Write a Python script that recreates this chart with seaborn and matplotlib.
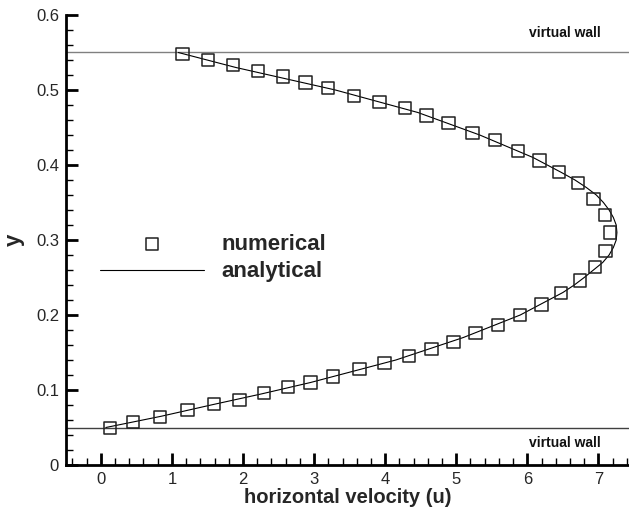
import numpy as np
import pandas as pd
import matplotlib
matplotlib.use("Agg")
import matplotlib.pyplot as plt
import seaborn as sns
from matplotlib.ticker import MultipleLocator

# numerical solution
num_u = [1.15, 1.51, 1.86, 2.21, 2.56, 2.88, 3.20, 3.56, 3.92, 4.28, 4.58, 4.89,
         5.23, 5.54, 5.87, 6.17, 6.45, 6.71, 6.93, 7.09, 7.16, 7.10,
         6.95, 6.74, 6.47, 6.20, 5.90, 5.59, 5.27, 4.96, 4.65, 4.34, 3.99,
         3.64, 3.27, 2.95, 2.63, 2.30, 1.95, 1.59, 1.22, 0.83, 0.45, 0.13]
num_y = [0.548, 0.540, 0.533, 0.525, 0.518, 0.510, 0.503, 0.492, 0.484, 0.476, 0.466, 0.456,
         0.443, 0.433, 0.419, 0.406, 0.391, 0.376, 0.355, 0.333, 0.310, 0.285,
         0.264, 0.246, 0.229, 0.214, 0.200, 0.187, 0.176, 0.164, 0.155, 0.145, 0.136,
         0.128, 0.118, 0.110, 0.104, 0.096, 0.087, 0.081, 0.073, 0.064, 0.057, 0.049]

# analytical solution
ana_y = [0.05, 0.065, 0.08, 0.095, 0.11, 0.14, 0.17, 0.20, 0.23, 0.24, 0.25, 0.26, 0.27,
         0.28, 0.29, 0.30, 0.31, 0.32, 0.33, 0.34, 0.35, 0.36, 0.37, 0.38, 0.39, 0.41,
         0.44, 0.47, 0.50, 0.53, 0.55]
ana_u = [0.07, 0.85, 1.55, 2.27, 2.95, 4.15, 5.10, 5.90, 6.50, 6.66, 6.80, 6.93, 7.06,
         7.15, 7.21, 7.25, 7.26, 7.25, 7.21, 7.15, 7.07, 6.97, 6.83, 6.67, 6.48, 6.08,
         5.33, 4.46, 3.30, 1.90, 1.09]

wall_y = [0.05, 0.55]
wall_label = "virtual wall"

num_df = pd.DataFrame({"u": num_u, "y": num_y})
ana_df = pd.DataFrame({"u": ana_u, "y": ana_y})

sns.set_style("white")
plt.rcParams["font.family"] = ["Liberation Sans", "DejaVu Sans"]

W, H = 629, 511
fig = plt.figure(figsize=(W/100, H/100), dpi=100)
ax = fig.add_axes([66/W, 46/H, 1 - 66/W, (465-15)/H])

ax.axhline(wall_y[1], color="#808080", lw=1.0, zorder=1)
ax.axhline(wall_y[0], color="#404040", lw=1.0, zorder=1)

sns.lineplot(data=ana_df, x="u", y="y", sort=False, estimator=None, color="black",
             lw=0.8, ax=ax, label="analytical", zorder=2)
sns.scatterplot(data=num_df, x="u", y="y", marker="s", s=78, facecolor="none",
                edgecolor="#202020", linewidth=1.1, ax=ax, label="numerical", zorder=3)

ax.set_xlim(-0.49, 7.43)
ax.set_ylim(0, 0.6)

ax.xaxis.set_minor_locator(MultipleLocator(0.2))
ax.yaxis.set_minor_locator(MultipleLocator(0.02))
ax.set_yticks([0, 0.1, 0.2, 0.3, 0.4, 0.5, 0.6])
ax.set_yticklabels(["0", "0.1", "0.2", "0.3", "0.4", "0.5", "0.6"])
ax.set_xticks([0, 1, 2, 3, 4, 5, 6, 7])

for s in ["top", "right"]:
    ax.spines[s].set_visible(False)
for s in ["left", "bottom"]:
    ax.spines[s].set_linewidth(2.0)
    ax.spines[s].set_color("black")

ax.tick_params(which="major", direction="in", length=8.5, width=2.0, labelsize=12,
               color="black", pad=5)
ax.tick_params(which="minor", direction="in", length=5, width=1.0, color="black")
ax.tick_params(axis="x", which="both", bottom=True)
ax.tick_params(axis="y", which="both", left=True)

ax.set_xlabel("horizontal velocity (u)", fontsize=14.5, fontweight="bold", labelpad=1)
ax.set_ylabel("y", fontsize=16, fontweight="bold", labelpad=8)

# wall labels (display coords: origin bottom-left)
ax.text(565, H - 33, wall_label, transform=None, fontsize=10, fontweight="bold",
        ha="center", va="center", color="#111111")
ax.text(565, H - 443, wall_label, transform=None, fontsize=10, fontweight="bold",
        ha="center", va="center", color="#111111")

h, l = ax.get_legend_handles_labels()
order = [l.index("numerical"), l.index("analytical")]
leg = ax.legend([h[i] for i in order], [l[i] for i in order],
                loc="center left", bbox_to_anchor=(100/W, (H-258)/H),
                bbox_transform=fig.transFigure, frameon=False,
                prop={"size": 16, "weight": "bold"}, handlelength=4.7,
                handletextpad=0.75, labelspacing=0.3, borderpad=0, borderaxespad=0)

fig.savefig("out.png", dpi=100)
